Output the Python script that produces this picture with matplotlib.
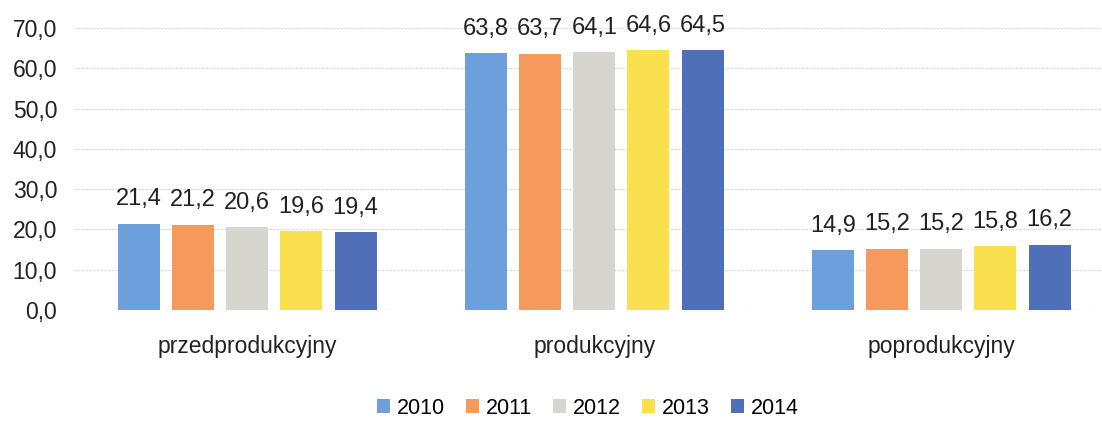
import numpy as np
import matplotlib.pyplot as plt

plt.rcParams['font.family'] = ['Liberation Sans', 'DejaVu Sans']

categories = ["przedprodukcyjny", "produkcyjny", "poprodukcyjny"]
years = ["2010", "2011", "2012", "2013", "2014"]
values = {
    "2010": [21.4, 63.8, 14.9],
    "2011": [21.2, 63.7, 15.2],
    "2012": [20.6, 64.1, 15.2],
    "2013": [19.6, 64.6, 15.8],
    "2014": [19.4, 64.5, 16.2],
}
colors = ["#6d9fdc", "#f59a5c", "#d6d5d0", "#fadf4e", "#4f6fb8"]

fig = plt.figure(figsize=(11.02, 4.21), dpi=100)
ax = fig.add_axes([0.067, 0.264, 0.933, 0.669])

x = np.arange(len(categories))
width = 0.121
step = 0.156

for i, year in enumerate(years):
    pos = x + (i - 2) * step
    bars = ax.bar(pos, values[year], width, color=colors[i], label=year, zorder=3)
    for b, v in zip(bars, values[year]):
        ax.text(b.get_x() + b.get_width() / 2, v + 3.3, f"{v:.1f}".replace(".", ","),
                ha="center", va="bottom", fontsize=17, color="#222222")

ax.set_ylim(0, 70)
ax.set_xlim(-0.5, 2.463)
ax.set_yticks(np.arange(0, 71, 10))
ax.set_yticklabels([f"{t:.1f}".replace(".", ",") for t in np.arange(0, 71, 10)],
                   fontsize=16.5, color="#222222")
ax.set_xticks(x)
ax.set_xticklabels(categories, fontsize=16.5, color="#222222")
ax.tick_params(axis="x", length=0, pad=18)
ax.tick_params(axis="y", length=0, pad=12)
ax.yaxis.grid(True, color="#dadada", linewidth=0.9, linestyle=(0, (2, 1)), zorder=0)
for s in ax.spines.values():
    s.set_visible(False)

ax.legend(loc="upper center", bbox_to_anchor=(0.5, -0.27), ncol=5, frameon=False,
          fontsize=15.5, handlelength=0.6, handleheight=0.6, handletextpad=0.3,
          columnspacing=1.0, borderaxespad=0.15)

plt.savefig("out.png", dpi=100)
